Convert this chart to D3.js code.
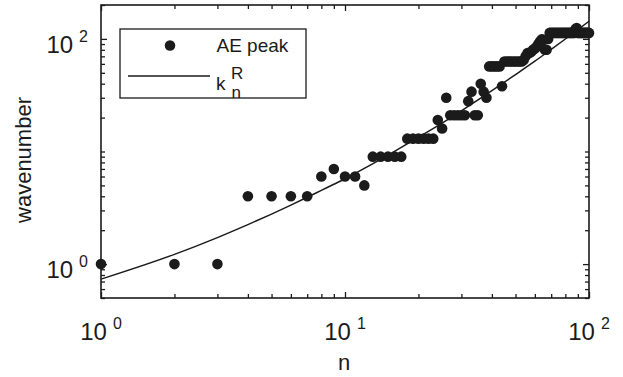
<!DOCTYPE html>
<html>
<head>
<meta charset="utf-8">
<script src="https://cdn.jsdelivr.net/npm/d3@7"></script>
<style>
  html, body { margin: 0; padding: 0; background: #fff; }
  svg { display: block; font-family: Arial, "Liberation Sans", Helvetica, sans-serif; }
</style>
</head>
<body>
<svg id="chart" width="623" height="377"></svg>
<script>
// ---- Data ----
const peakN = [1,2,3,4,5,6,7,8,9,10,11,12,13,14,15,16,17,18,19,20,
  21,22,23,24,25,26,27,28,29,30,31,32,33,34,35,36,37,38,39,40,
  41,42,43,44,45,46,47,48,49,50,51,52,53,54,55,56,57,58,59,60,
  61,62,63,64,65,66,67,68,69,70,71,72,73,74,75,76,77,78,79,80,
  81,82,83,84,85,86,87,88,89,90,91,92,93,94,95,96,97,98,99,100];
const peakK = [1,1,1,4,4,4,4,6,7,6,6,5,9,9,9,9,9,13,13,13,
  13,13,13,19,16,30,21,21,21,21,21,28,34,21,21,40,34,30,57,57,
  57,57,57,38,63,63,63,63,63,63,63,63,63,65,70,75,75,77,80,82,
  85,90,95,99,98,80,80,100,113,113,113,113,113,113,113,113,113,113,113,113,
  113,113,113,113,113,113,113,122,125,113,113,113,113,113,113,113,113,113,113,113];

const curveN = [1,2,3,4,5,6,7,8,9,10,12,15,20,25,30,40,50,60,70,80,90,100];
const curveK = [0.735,1.22,1.72,2.24,2.78,3.34,3.92,4.52,5.12,5.73,7.08,9.29,13.4,17.9,23.0,34.7,48.2,63.4,80.7,99.8,120.8,143.5];

const xTickValues = [1,10,100];
const xTickExps = ["0","1","2"];
const yTickValues = [1,100];
const yTickExps = ["0","2"];

const xDomain = [1,100];
const yDomain = [0.5,200];

const xTitle = "n";
const yTitle = "wavenumber";
const legendPeak = "AE peak";

// ---- Drawing ----
(function () {
const ink = "#1b1b1b";
const svg = d3.select("#chart");
const pL = 101, pR = 589, pT = 5, pB = 298;

const x = d3.scaleLog().domain(xDomain).range([pL, pR]);
const y = d3.scaleLog().domain(yDomain).range([pB, pT]);

const isMajorX = v => xTickValues.some(t => Math.abs(t - v) < 1e-9);
const isMajorY = v => yTickValues.some(t => Math.abs(t - v) < 1e-9);
const xMinor = x.ticks().filter(v => !isMajorX(v));
const yMinor = y.ticks().filter(v => !isMajorY(v));

function styleAxis(g) {
  g.select(".domain").remove();
  g.selectAll(".tick line").attr("stroke", ink).attr("stroke-width", 1.3);
  g.selectAll(".tick text").remove();
}

const MAJ = 6, MIN = 4;
svg.append("g").attr("transform", `translate(0,${pB})`)
  .call(d3.axisBottom(x).tickValues(xMinor).tickSize(-MIN).tickFormat("")).call(styleAxis);
svg.append("g").attr("transform", `translate(0,${pB})`)
  .call(d3.axisBottom(x).tickValues(xTickValues).tickSize(-MAJ).tickFormat("")).call(styleAxis);
svg.append("g").attr("transform", `translate(0,${pT})`)
  .call(d3.axisTop(x).tickValues(xMinor).tickSize(-MIN).tickFormat("")).call(styleAxis);
svg.append("g").attr("transform", `translate(0,${pT})`)
  .call(d3.axisTop(x).tickValues(xTickValues).tickSize(-MAJ).tickFormat("")).call(styleAxis);
svg.append("g").attr("transform", `translate(${pL},0)`)
  .call(d3.axisLeft(y).tickValues(yMinor).tickSize(-MIN).tickFormat("")).call(styleAxis);
svg.append("g").attr("transform", `translate(${pL},0)`)
  .call(d3.axisLeft(y).tickValues(yTickValues).tickSize(-MAJ).tickFormat("")).call(styleAxis);
svg.append("g").attr("transform", `translate(${pR},0)`)
  .call(d3.axisRight(y).tickValues(yMinor).tickSize(-MIN).tickFormat("")).call(styleAxis);
svg.append("g").attr("transform", `translate(${pR},0)`)
  .call(d3.axisRight(y).tickValues(yTickValues).tickSize(-MAJ).tickFormat("")).call(styleAxis);

svg.append("rect")
  .attr("x", pL).attr("y", pT)
  .attr("width", pR - pL).attr("height", pB - pT)
  .attr("fill", "none").attr("stroke", ink).attr("stroke-width", 1.6);

xTickValues.forEach((v, i) => {
  const t = svg.append("text")
    .attr("x", x(v)).attr("y", 339.5)
    .attr("text-anchor", "middle").attr("fill", ink)
    .attr("font-size", 24);
  t.append("tspan").text("10");
  t.append("tspan").attr("dx", 6).attr("dy", -11).attr("font-size", 16).text(xTickExps[i]);
});
yTickValues.forEach((v, i) => {
  const t = svg.append("text")
    .attr("x", 88).attr("y", y(v) + 14)
    .attr("text-anchor", "end").attr("fill", ink)
    .attr("font-size", 24);
  t.append("tspan").text("10");
  t.append("tspan").attr("dx", 6).attr("dy", -11).attr("font-size", 16).text(yTickExps[i]);
});

svg.append("text")
  .attr("x", 344).attr("y", 370)
  .attr("text-anchor", "middle").attr("fill", ink)
  .attr("font-size", 22).text(xTitle);
svg.append("text")
  .attr("transform", "translate(31,160) rotate(-90)")
  .attr("text-anchor", "middle").attr("fill", ink)
  .attr("font-size", 22).text(yTitle);

svg.append("g").selectAll("circle")
  .data(peakN.map((n, i) => [n, peakK[i]]))
  .join("circle")
  .attr("cx", d => x(d[0]))
  .attr("cy", d => y(d[1]))
  .attr("r", 5.3)
  .attr("fill", ink);

const line = d3.line()
  .x(d => x(d[0]))
  .y(d => y(d[1]))
  .curve(d3.curveMonotoneX);
svg.append("path")
  .datum(curveN.map((n, i) => [n, curveK[i]]))
  .attr("d", line)
  .attr("fill", "none")
  .attr("stroke", ink)
  .attr("stroke-width", 1.5);

const lg = svg.append("g");
lg.append("rect")
  .attr("x", 120).attr("y", 29).attr("width", 186).attr("height", 69)
  .attr("fill", "#fff").attr("stroke", ink).attr("stroke-width", 1.3);
lg.append("circle").attr("cx", 170).attr("cy", 45.5).attr("r", 5.3).attr("fill", ink);
lg.append("text").attr("x", 216.5).attr("y", 51.7)
  .attr("font-size", 19).attr("fill", ink).text(legendPeak);
lg.append("line").attr("x1", 128).attr("x2", 210).attr("y1", 76).attr("y2", 76)
  .attr("stroke", ink).attr("stroke-width", 1.5);
lg.append("text").attr("x", 216).attr("y", 90)
  .attr("font-size", 19).attr("fill", ink).text("k");
lg.append("text").attr("x", 231).attr("y", 78.5)
  .attr("font-size", 17).attr("fill", ink).text("R");
lg.append("text").attr("x", 231.5).attr("y", 97.5)
  .attr("font-size", 17).attr("fill", ink).text("n");
})();
</script>
</body>
</html>
